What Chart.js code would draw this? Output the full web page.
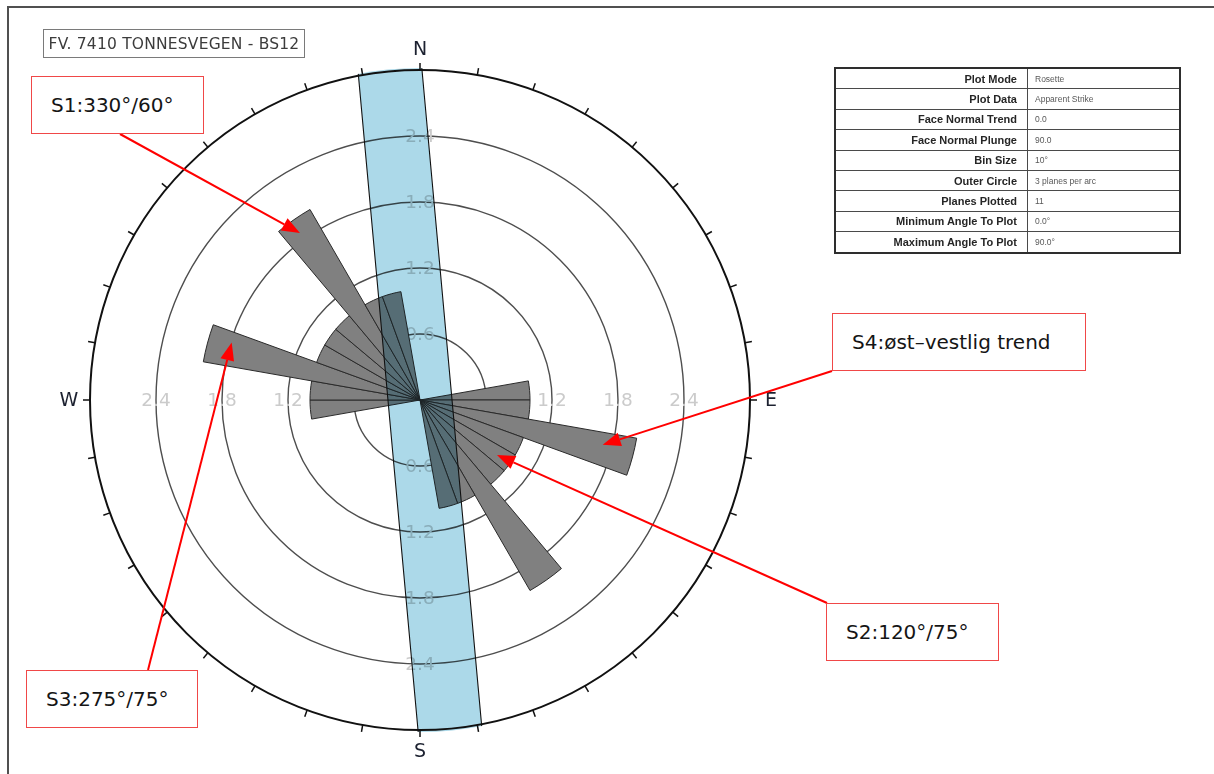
<!DOCTYPE html>
<html>
<head>
<meta charset="utf-8">
<script src="https://cdn.jsdelivr.net/npm/chart.js@4.4.1/dist/chart.umd.min.js"></script>
<style>
  html, body { margin: 0; padding: 0; background: #fff; }
  body { width: 1214px; height: 774px; position: relative; overflow: hidden; font-family: "DejaVu Sans", sans-serif; }
  #rose { position: absolute; left: 0; top: 0; }
  .frame { position: absolute; left: 7px; top: 6px; width: 1300px; height: 900px;
           border-left: 2px solid #505050; border-top: 2px solid #505050; }
  .title { position: absolute; left: 43px; top: 29px; width: 260px; height: 27px;
           border: 1.5px solid #7a7a7a; color: #3c3c3c; font-size: 15.5px;
           display: flex; align-items: center; justify-content: center; letter-spacing: 0.2px; }
  .note { position: absolute; box-sizing: border-box; border: 1.5px solid #f04848; background: #fff;
          color: #151515; font-size: 20px; padding-left: 19px; display: flex; align-items: center; white-space: nowrap; }
  table.info { position: absolute; left: 834px; top: 67px; width: 347px; border-collapse: collapse;
               border: 2px solid #2e2e2e; font-family: "Liberation Sans", Arial, sans-serif; table-layout: fixed; }
  table.info td { height: 19.4px; padding: 0; border: 1.2px solid #4a4a4a; overflow: hidden; white-space: nowrap; }
  table.info td.k { width: 181px; text-align: right; padding-right: 10px; font-weight: bold; font-size: 11px; color: #262626; }
  table.info td.v { text-align: left; padding-left: 7px; font-size: 8.5px; color: #585858; }
</style>
</head>
<body>
<canvas id="rose" width="1214" height="774"></canvas>
<div class="frame"></div>
<div class="title">FV. 7410 TONNESVEGEN - BS12</div>
<table class="info" id="info"></table>
<div class="note" style="left:31px;top:76px;width:173px;height:58px;">S1:330°/60°</div>
<div class="note" style="left:832px;top:313px;width:254px;height:58px;">S4:øst–vestlig trend</div>
<div class="note" style="left:826px;top:603px;width:173px;height:58px;">S2:120°/75°</div>
<div class="note" style="left:26px;top:670px;width:172px;height:58px;">S3:275°/75°</div>

<script>
// Apparent-strike rosette, 10° bins clockwise from north (bidirectional)
const binLabels = [
  '0-10', '10-20', '20-30', '30-40', '40-50', '50-60', '60-70', '70-80', '80-90',
  '90-100', '100-110', '110-120', '120-130', '130-140', '140-150', '150-160', '160-170', '170-180',
  '180-190', '190-200', '200-210', '210-220', '220-230', '230-240', '240-250', '250-260', '260-270',
  '270-280', '280-290', '290-300', '300-310', '310-320', '320-330', '330-340', '340-350', '350-360'
];
const planeCounts = [
  0, 0, 0, 0, 0, 0, 0, 0, 1,
  1, 2, 1, 1, 1, 2, 1, 1, 0,
  0, 0, 0, 0, 0, 0, 0, 0, 1,
  1, 2, 1, 1, 1, 2, 1, 1, 0
];
const ringValues = [0.6, 1.2, 1.8, 2.4];
const ringLabels = ['0.6', '1.2', '1.8', '2.4'];
const outerCircleValue = 3.0;
const compassLabels = ['N', 'E', 'S', 'W'];
const compassAzimuths = [0, 90, 180, 270];

// Slope face band: trend of its axis (degrees) and half width (planes)
const faceBandTrend = 354.8;
const faceBandHalfWidth = 0.29;

// Annotation arrow targets in plot space (azimuth, planes) and their start points at the boxes
const noteTargetAz = [324.3, 103.8, 125.5, 287.0];
const noteTargetValue = [1.87, 1.71, 0.86, 1.79];
const noteStartX = [120, 832, 827, 148];
const noteStartY = [134, 371, 603, 670];

// Info table
const infoKeys = ['Plot Mode', 'Plot Data', 'Face Normal Trend', 'Face Normal Plunge', 'Bin Size',
  'Outer Circle', 'Planes Plotted', 'Minimum Angle To Plot', 'Maximum Angle To Plot'];
const infoValues = ['Rosette', 'Apparent Strike', '0.0', '90.0', '10°',
  '3 planes per arc', '11', '0.0°', '90.0°'];

const infoTable = document.getElementById('info');
infoKeys.forEach((k, i) => {
  const tr = document.createElement('tr');
  tr.innerHTML = '<td class="k">' + k + '</td><td class="v">' + infoValues[i] + '</td>';
  infoTable.appendChild(tr);
});

function polarPoint(scale, az, value) {
  const d = scale.getDistanceFromCenterForValue(value);
  const a = az * Math.PI / 180;
  return { x: scale.xCenter + d * Math.sin(a), y: scale.yCenter - d * Math.cos(a) };
}

function drawArrow(ctx, x0, y0, x1, y1) {
  const ang = Math.atan2(y1 - y0, x1 - x0);
  const len = 18, half = 7;
  const bx = x1 - len * Math.cos(ang), by = y1 - len * Math.sin(ang);
  ctx.strokeStyle = '#ff0000';
  ctx.fillStyle = '#ff0000';
  ctx.lineWidth = 2;
  ctx.beginPath();
  ctx.moveTo(x0, y0);
  ctx.lineTo(bx, by);
  ctx.stroke();
  ctx.beginPath();
  ctx.moveTo(x1, y1);
  ctx.lineTo(bx + half * Math.sin(ang), by - half * Math.cos(ang));
  ctx.lineTo(bx - half * Math.sin(ang), by + half * Math.cos(ang));
  ctx.closePath();
  ctx.fill();
}

const roseDecor = {
  id: 'roseDecor',
  beforeDraw(chart) {
    const ctx = chart.ctx;
    ctx.save();
    ctx.fillStyle = '#ffffff';
    ctx.fillRect(0, 0, chart.width, chart.height);
    ctx.restore();
  },
  beforeDatasetsDraw(chart) {
    const ctx = chart.ctx;
    const scale = chart.scales.r;
    ctx.save();
    ctx.font = '18.5px "DejaVu Sans"';
    ctx.fillStyle = '#cbcbcb';
    ctx.textAlign = 'center';
    ctx.textBaseline = 'middle';
    ringValues.forEach((v, i) => {
      compassAzimuths.forEach(az => {
        const p = polarPoint(scale, az, v);
        ctx.fillText(ringLabels[i], p.x, p.y + 1);
      });
    });
    ctx.restore();
  },
  afterDatasetsDraw(chart) {
    const ctx = chart.ctx;
    const scale = chart.scales.r;
    const cx = scale.xCenter, cy = scale.yCenter;
    const R = scale.getDistanceFromCenterForValue(outerCircleValue);
    const hw = scale.getDistanceFromCenterForValue(faceBandHalfWidth);

    // slope face band, clipped by the outer circle
    ctx.save();
    ctx.beginPath();
    ctx.arc(cx, cy, R + 2, 0, Math.PI * 2);
    ctx.clip();
    ctx.translate(cx, cy);
    ctx.rotate(faceBandTrend * Math.PI / 180);
    ctx.globalCompositeOperation = 'multiply';
    ctx.fillStyle = '#acd9e9';
    ctx.fillRect(-hw, -R - 10, hw * 2, 2 * R + 20);
    ctx.globalCompositeOperation = 'source-over';
    ctx.strokeStyle = '#111';
    ctx.lineWidth = 1.1;
    ctx.beginPath();
    ctx.moveTo(-hw, -R - 10); ctx.lineTo(-hw, R + 10);
    ctx.moveTo(hw, -R - 10); ctx.lineTo(hw, R + 10);
    ctx.stroke();
    ctx.restore();

    // outer circle with 10° ticks
    ctx.save();
    ctx.strokeStyle = '#111';
    ctx.lineWidth = 2;
    ctx.beginPath();
    ctx.arc(cx, cy, R, 0, Math.PI * 2);
    ctx.stroke();
    ctx.lineWidth = 1.5;
    for (let i = 0; i < planeCounts.length; i++) {
      const a = i * (360 / planeCounts.length) * Math.PI / 180;
      ctx.beginPath();
      ctx.moveTo(cx + R * Math.sin(a), cy - R * Math.cos(a));
      ctx.lineTo(cx + (R + 7) * Math.sin(a), cy - (R + 7) * Math.cos(a));
      ctx.stroke();
    }
    // compass letters
    ctx.font = '19px "DejaVu Sans"';
    ctx.fillStyle = '#1c2130';
    ctx.textAlign = 'center';
    ctx.textBaseline = 'middle';
    compassLabels.forEach((t, i) => {
      const a = compassAzimuths[i] * Math.PI / 180;
      const d = R + 21;
      ctx.fillText(t, cx + d * Math.sin(a), cy - d * Math.cos(a) + 1);
    });
    ctx.restore();

    // annotation arrows
    ctx.save();
    noteTargetAz.forEach((az, i) => {
      const p = polarPoint(scale, az, noteTargetValue[i]);
      drawArrow(ctx, noteStartX[i], noteStartY[i], p.x, p.y);
    });
    ctx.restore();
  }
};

new Chart(document.getElementById('rose'), {
  type: 'polarArea',
  data: {
    labels: binLabels,
    datasets: [{
      data: planeCounts,
      backgroundColor: '#808080',
      borderColor: '#2a2a2a',
      borderWidth: 1
    }]
  },
  options: {
    responsive: false,
    animation: false,
    layout: { padding: { left: 90, top: 70, right: 464, bottom: 44 } },
    plugins: { legend: { display: false }, tooltip: { enabled: false }, title: { display: false } },
    scales: {
      r: {
        min: 0,
        max: outerCircleValue,
        startAngle: 0,
        ticks: { display: false, stepSize: 0.6 },
        angleLines: { display: false },
        pointLabels: { display: false },
        grid: {
          circular: true,
          color: ctx => (ctx.tick && ctx.tick.value >= outerCircleValue - 0.01) ? 'rgba(0,0,0,0)' : '#4e4e4e',
          lineWidth: 1.4
        }
      }
    }
  },
  plugins: [roseDecor]
});
</script>
</body>
</html>
